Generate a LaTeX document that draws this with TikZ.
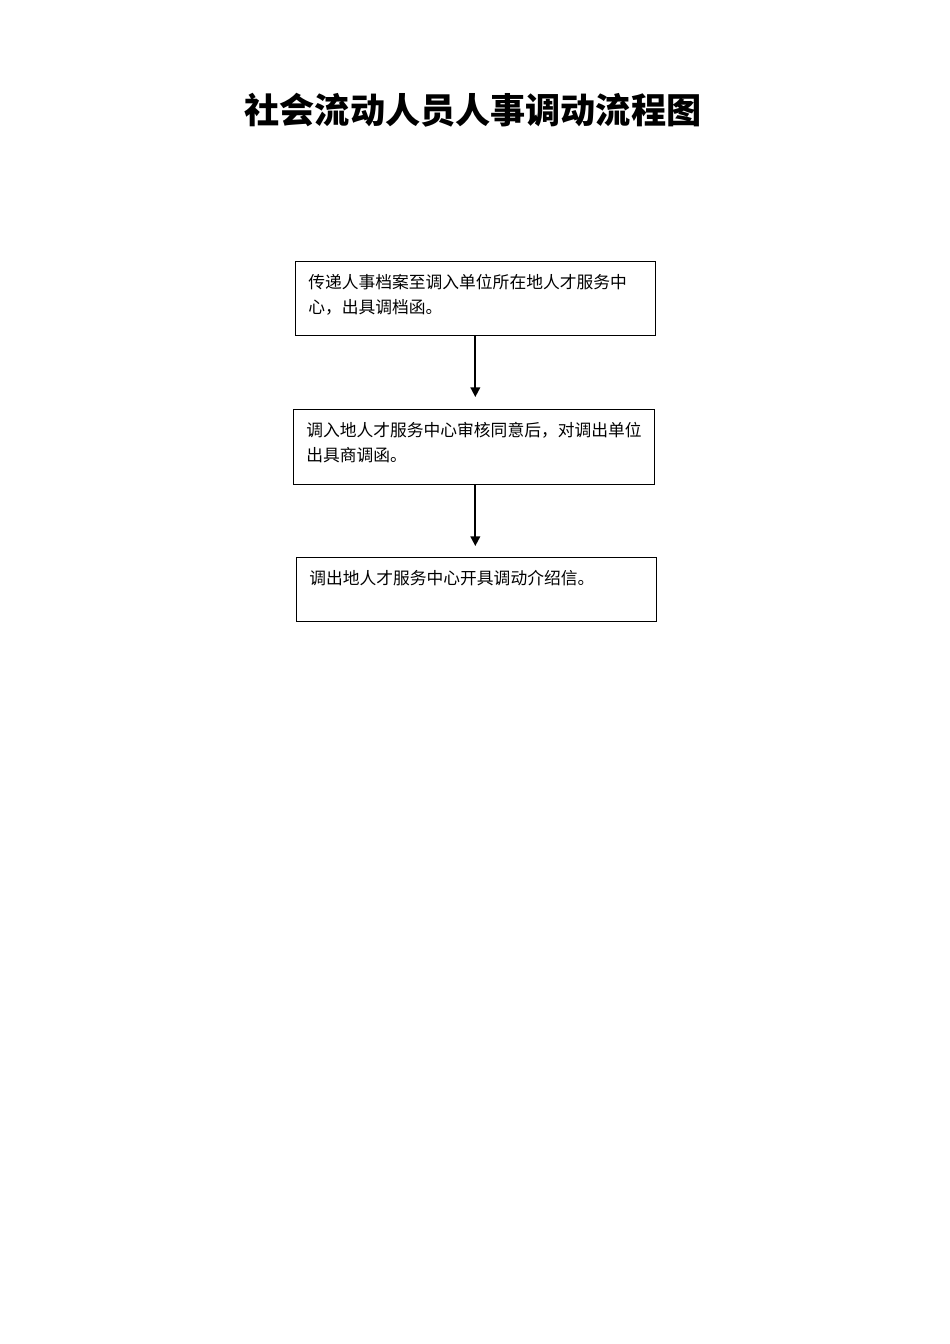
\documentclass[tikz,border=0pt]{standalone}
\usepackage{fontspec}
\setmainfont{Noto Sans CJK SC}
\usepackage{tikz}
\usetikzlibrary{arrows.meta}
\newdimen\pxu
\pxu=0.6263pt

\begin{document}
\begin{tikzpicture}[x=0.6263pt, y=-0.6263pt]
\useasboundingbox (0,0) rectangle (950,1344);
\tikzset{stepbox/.style={draw, thin, anchor=north west, inner xsep=13\pxu, inner ysep=13\pxu,
    font=\fontsize{10.5pt}{15.7pt}\selectfont},
  flow/.style={line width=1.1pt, -{Triangle[width=6pt,length=6pt]}}}
\node[font=\fontsize{22pt}{26pt}\selectfont\bfseries] (title) at (473,110) {社会流动人员人事调动流程图};
\node[stepbox] (archive) at (295,261) {\parbox[t][48\pxu][t]{334\pxu}{传递人事档案至调入单位所在地人才服务中\\心，出具调档函。}};
\node[stepbox] (approve) at (293,409) {\parbox[t][49\pxu][t]{335\pxu}{调入地人才服务中心审核同意后，对调出单位\\出具商调函。}};
\node[stepbox] (letter) at (296,557) {\parbox[t][38\pxu][t]{334\pxu}{调出地人才服务中心开具调动介绍信。}};
\draw[flow, shorten >=12\pxu] (archive.south) -- (archive.south |- approve.north);
\draw[flow, shorten >=11\pxu] (approve.south -| archive.south) -- (archive.south |- letter.north);
\end{tikzpicture}
\end{document}
